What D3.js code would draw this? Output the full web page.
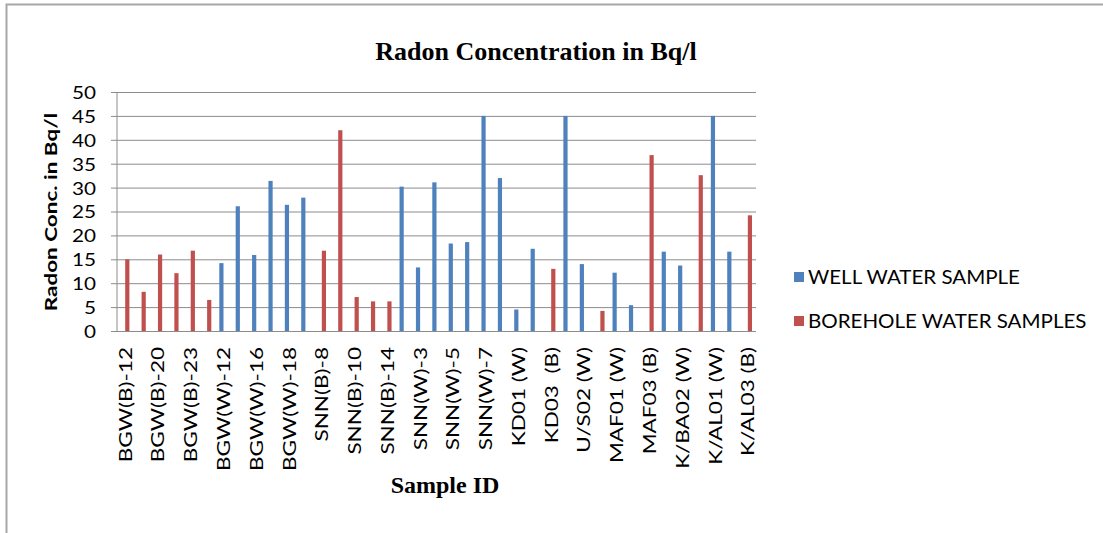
<!DOCTYPE html>
<html><head><meta charset="utf-8">
<script src="https://cdn.jsdelivr.net/npm/d3@7"></script>
<style>
html,body{margin:0;padding:0;background:#fff;}
svg{display:block;}
text{white-space:pre;}
</style></head>
<body><svg id="chart" width="1103" height="533"></svg>
<script>
const categories = [
  "BGW(B)-12","BGW(B)-15","BGW(B)-20","BGW(B)-21","BGW(B)-23","BGW(B)-25",
  "BGW(W)-12","BGW(W)-14","BGW(W)-16","BGW(W)-17","BGW(W)-18","BGW(W)-19",
  "SNN(B)-8","SNN(B)-9","SNN(B)-10","SNN(B)-12","SNN(B)-14",
  "SNN(W)-2","SNN(W)-3","SNN(W)-4","SNN(W)-5","SNN(W)-6","SNN(W)-7","SNN(W)-8",
  "KD01 (W)","KD02 (W)","KD03  (B)","U/S01 (W)","U/S02 (W)","U/S03 (B)",
  "MAF01 (W)","MAF02 (W)","MAF03 (B)","K/BA01 (W)","K/BA02 (W)","K/BA03 (B)",
  "K/AL01 (W)","K/AL02 (W)","K/AL03 (B)"
];
const wellValues = [
  0,0,0,0,0,0,
  14.2,26.1,15.9,31.4,26.4,27.9,
  0,0,0,0,0,
  30.2,13.3,31.1,18.3,18.6,45,32.0,
  4.5,17.2,0,45,14.0,0,
  12.2,5.4,0,16.6,13.7,0,
  45,16.6,0
];
const boreholeValues = [
  15.0,8.2,16.0,12.1,16.8,6.5,
  0,0,0,0,0,0,
  16.8,42.0,7.1,6.2,6.2,
  0,0,0,0,0,0,0,
  0,0,13.0,0,0,4.2,
  0,0,36.8,0,0,32.6,
  0,0,24.2
];
const seriesNames = ["WELL WATER SAMPLE","BOREHOLE WATER SAMPLES"];
const seriesColors = ["#4F81BD","#C0504D"];
const yTicks = [0,5,10,15,20,25,30,35,40,45,50];
const shownLabels = categories.filter((d,i)=> i%2===0);

const svg = d3.select("#chart");
const L = 117, R = 756, T = 92, B = 331;

function stretch(sel, f){
  sel.each(function(){
    const len = this.getComputedTextLength();
    this.setAttribute("textLength", len*f);
    this.setAttribute("lengthAdjust","spacingAndGlyphs");
  });
}

// outer frame
svg.append("path").attr("d", `M6.5,533V4.5H1103`).attr("fill","none")
  .attr("stroke","#a8a8a8").attr("stroke-width",2);

const x = d3.scaleBand().domain(categories).range([L,R]).paddingInner(0.487).paddingOuter(0.2435);
const xs = d3.scaleBand().domain([0,1]).range([0,x.bandwidth()]);
const y = d3.scaleLinear().domain([0,50]).range([B,T]);

// gridlines + y labels
const yAxis = d3.axisLeft(y).tickValues(yTicks).tickSizeInner(-(R-111)).tickSizeOuter(0).tickPadding(15);
const gy = svg.append("g").attr("transform","translate(111,0)").call(yAxis);
gy.select(".domain").remove();
gy.selectAll(".tick line").attr("stroke","#8c8c8c").attr("stroke-width",1);
gy.selectAll(".tick text").attr("font-family","Lato, 'Open Sans', sans-serif").attr("font-size",18)
  .attr("fill","#000").attr("dy","0.36em").call(stretch,1.15);

// vertical axis line
svg.append("line").attr("x1",L).attr("x2",L).attr("y1",T).attr("y2",B)
  .attr("stroke","#8c8c8c").attr("stroke-width",1);

// bars
const series = [wellValues, boreholeValues];
series.forEach((vals, s) => {
  svg.append("g").selectAll("rect").data(categories).join("rect")
    .attr("x", (d)=> x(d) + xs(s))
    .attr("width", xs.bandwidth())
    .attr("y", (d,i)=> y(vals[i]))
    .attr("height", (d,i)=> y(0) - y(vals[i]))
    .attr("fill", seriesColors[s]);
});

// x axis labels (every other category)
const xAxis = d3.axisBottom(x).tickValues(shownLabels).tickSize(0).tickPadding(0);
const gx = svg.append("g").attr("transform",`translate(0,${B})`).call(xAxis);
gx.select(".domain").remove();
gx.selectAll(".tick text")
  .attr("font-family","Lato, 'Open Sans', sans-serif").attr("font-size",18).attr("fill","#000")
  .attr("text-anchor","end").attr("transform","translate(0,16) rotate(-90)")
  .attr("x",0).attr("y",0).attr("dy","0.36em")
  .call(stretch,1.25);

// title
svg.append("text").attr("x",536).attr("y",60).attr("text-anchor","middle")
  .attr("font-family","'Liberation Serif', 'Times New Roman', serif").attr("font-weight","bold")
  .attr("font-size",26).text("Radon Concentration in Bq/l");

// x axis title
svg.append("text").attr("x",445).attr("y",493).attr("text-anchor","middle")
  .attr("font-family","'Liberation Serif', 'Times New Roman', serif").attr("font-weight","bold")
  .attr("font-size",24).text("Sample ID");

// y axis title
svg.append("text").attr("transform","translate(57,212) rotate(-90)").attr("text-anchor","middle")
  .attr("font-family","Lato, 'Open Sans', sans-serif").attr("font-weight","bold")
  .attr("font-size",17).text("Radon Conc. in Bq/l").call(stretch,1.32);

// legend
const lg = svg.append("g");
seriesNames.forEach((name,i)=>{
  const yy = 272 + i*44;
  lg.append("rect").attr("x",794).attr("y",yy).attr("width",10).attr("height",10).attr("fill",seriesColors[i]);
  lg.append("text").attr("x",808).attr("y",yy+12).attr("font-family","Lato, 'Open Sans', sans-serif")
    .attr("font-size",19).attr("fill","#000").text(name).call(stretch,1.08);
});
</script></body></html>
